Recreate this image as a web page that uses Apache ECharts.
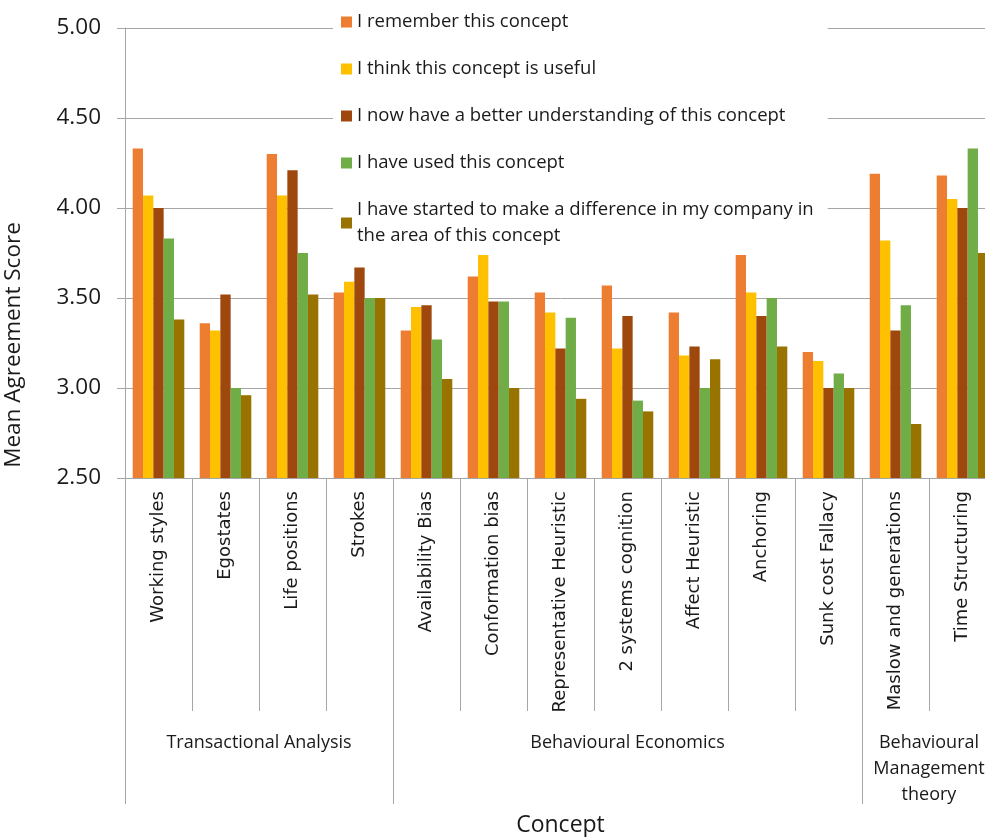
<!DOCTYPE html>
<html>
<head>
<meta charset="utf-8">
<script src="https://cdn.jsdelivr.net/npm/echarts@6/dist/echarts.min.js"></script>
<style>
  html, body { margin: 0; padding: 0; overflow: hidden; background: #fff; }
  #chart { width: 1000px; height: 837px; }
</style>
</head>
<body>
<div id="chart"></div>
<script>
// 概念（x 轴类目）
const concepts = ['Working styles', 'Egostates', 'Life positions', 'Strokes',
  'Availability Bias', 'Conformation bias', 'Representative Heuristic', '2 systems cognition',
  'Affect Heuristic', 'Anchoring', 'Sunk cost Fallacy',
  'Maslow and generations', 'Time Structuring']

// 分组标签
const groupNames = ['Transactional Analysis', 'Behavioural Economics', 'Behavioural\nManagement\ntheory']
const groupBounds = [0, 4, 11, 13]

const seriesNames = ['I remember this concept', 'I think this concept is useful',
  'I now have a better understanding of this concept', 'I have used this concept',
  'I have started to make a difference in my company in the area of this concept']

const remember   = [4.33, 3.36, 4.30, 3.53, 3.32, 3.62, 3.53, 3.57, 3.42, 3.76, 3.20, 4.19, 4.18]
const useful     = [4.07, 3.32, 4.07, 3.59, 3.45, 3.74, 3.42, 3.22, 3.18, 3.53, 3.15, 3.82, 4.05]
const understand = [4.00, 3.52, 4.21, 3.67, 3.46, 3.48, 3.22, 3.40, 3.23, 3.40, 3.00, 3.32, 4.00]
const used       = [3.83, 3.00, 3.75, 3.50, 3.27, 3.48, 3.39, 2.93, 3.00, 3.50, 3.08, 3.46, 4.33]
const difference = [3.38, 2.96, 3.52, 3.50, 3.05, 3.00, 2.94, 2.87, 3.16, 3.23, 3.00, 2.80, 3.75]

const colors = ['#ED7D31', '#FFC000', '#9E480E', '#70AD47', '#997300']
const values = [remember, useful, understand, used, difference]

const gray = '#a6a6a6'
const txt = '#1a1a1a'

let chart = echarts.init(document.getElementById('chart'))

// 组中心位置
const groupCenters = []
for (let i = 0; i < groupNames.length; i++) {
  groupCenters.push((groupBounds[i] + groupBounds[i + 1]) / 2)
}

let option = {
  animation: false,
  color: colors,
  grid: { left: 125, top: 28, width: 871, height: 450, containLabel: false, outerBoundsMode: 'none' },
  legend: {
    orient: 'vertical',
    left: 333,
    top: 0,
    padding: [9, 14, 6, 8],
    backgroundColor: '#fff',
    itemGap: 21,
    itemWidth: 11,
    itemHeight: 11,
    icon: 'rect',
    data: seriesNames,
    formatter: function (name) {
      if (name === seriesNames[4]) {
        return 'I have started to make a difference in my company in\nthe area of this concept'
      }
      return name
    },
    textStyle: { fontFamily: 'Open Sans', fontSize: 18.5, lineHeight: 26, color: txt }
  },
  xAxis: [
    {
      type: 'category',
      data: concepts,
      axisLine: { show: true, lineStyle: { color: gray } },
      axisTick: { show: true, interval: 0, length: 233, lineStyle: { color: gray } },
      axisLabel: {
        rotate: 90, margin: 13, interval: 0,
        fontFamily: 'DejaVu Sans', fontSize: 18, color: txt
      },
      splitLine: { show: false }
    },
    {
      type: 'value',
      min: 0,
      max: 13,
      position: 'bottom',
      offset: 233,
      axisLine: { show: false },
      axisTick: { show: true, customValues: groupBounds, length: 93, lineStyle: { color: gray } },
      axisLabel: {
        customValues: groupCenters,
        margin: 19,
        fontFamily: 'Open Sans', fontSize: 18, lineHeight: 26, color: txt, align: 'center',
        formatter: function (v) {
          const i = groupCenters.indexOf(v)
          return i >= 0 ? groupNames[i] : ''
        }
      },
      splitLine: { show: false },
      name: 'Concept',
      nameLocation: 'middle',
      nameGap: 103,
      nameTextStyle: { fontFamily: 'Open Sans', fontSize: 23, color: txt }
    }
  ],
  yAxis: {
    type: 'value',
    min: 2.5,
    max: 5,
    interval: 0.5,
    axisLine: { show: true, lineStyle: { color: gray } },
    axisTick: { show: true, length: 8, lineStyle: { color: gray } },
    axisLabel: {
      margin: 24,
      fontFamily: 'Open Sans', fontSize: 22.5, color: txt,
      formatter: function (v) { return v.toFixed(2) }
    },
    splitLine: { lineStyle: { color: gray } }
  },
  graphic: [
    {
      type: 'text',
      x: 14,
      y: 345,
      rotation: Math.PI / 2,
      style: {
        text: 'Mean Agreement Score',
        fontFamily: 'Open Sans', fontSize: 22.5, fill: txt,
        align: 'center', verticalAlign: 'middle'
      }
    }
  ],
  series: []
}

for (let i = 0; i < seriesNames.length; i++) {
  option.series.push({
    name: seriesNames[i],
    type: 'bar',
    data: values[i],
    barGap: 0,
    barCategoryGap: '23%',
    itemStyle: { color: colors[i] }
  })
}

chart.setOption(option)
</script>
</body>
</html>
